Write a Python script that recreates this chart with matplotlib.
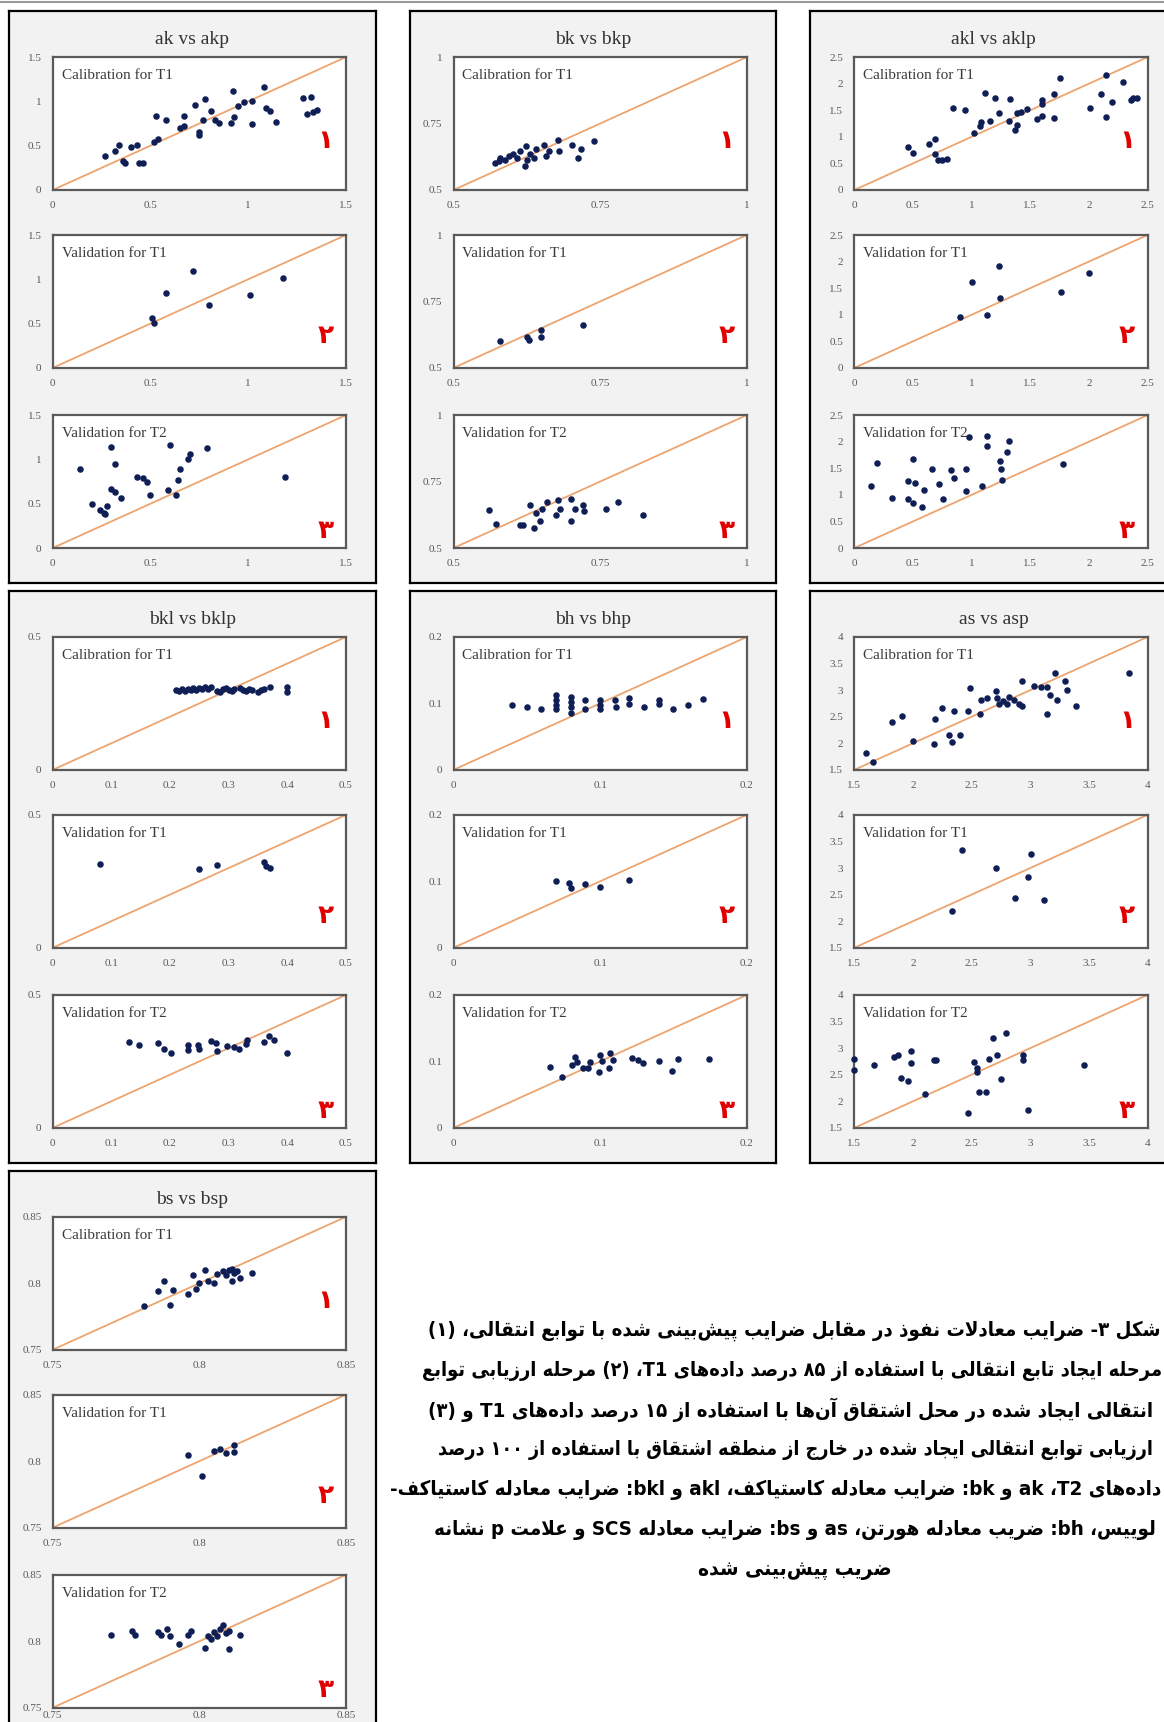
import re
import matplotlib
matplotlib.use('Agg')
import matplotlib.pyplot as plt

# ---------------- data (observed x vs predicted y) ----------------
ak_cal_x = [0.27, 0.32, 0.34, 0.36, 0.37, 0.40, 0.43, 0.44, 0.46, 0.52, 0.54, 0.53, 0.58, 0.65, 0.67, 0.67, 0.73, 0.75, 0.75, 0.77,
            0.78, 0.81, 0.83, 0.85, 0.91, 0.92, 0.93, 0.95, 0.98, 1.02, 1.02, 1.08, 1.09, 1.11, 1.14, 1.28, 1.30, 1.32, 1.33, 1.35]
ak_cal_y = [0.38, 0.44, 0.51, 0.33, 0.31, 0.49, 0.51, 0.31, 0.31, 0.54, 0.57, 0.84, 0.79, 0.70, 0.72, 0.83, 0.96, 0.65, 0.62, 0.79,
            1.03, 0.89, 0.79, 0.76, 0.76, 1.12, 0.82, 0.95, 0.99, 1.00, 0.75, 1.16, 0.93, 0.89, 0.77, 1.04, 0.86, 1.05, 0.88, 0.90]
ak_v1_x = [0.51, 0.52, 0.58, 0.72, 0.80, 1.01, 1.18]
ak_v1_y = [0.56, 0.51, 0.85, 1.09, 0.71, 0.82, 1.01]
ak_v2_x = [0.14, 0.20, 0.24, 0.26, 0.28, 0.27, 0.30, 0.32, 0.30, 0.32, 0.35, 0.43, 0.46, 0.48, 0.50, 0.59, 0.60, 0.63, 0.64, 0.65,
           0.69, 0.70, 0.79, 1.19]
ak_v2_y = [0.89, 0.50, 0.43, 0.40, 0.47, 0.38, 1.14, 0.95, 0.67, 0.63, 0.57, 0.80, 0.79, 0.74, 0.60, 0.66, 1.16, 0.60, 0.77, 0.89,
           1.01, 1.06, 1.13, 0.80]

bk_cal_x = [0.570, 0.577, 0.580, 0.587, 0.594, 0.602, 0.609, 0.614, 0.622, 0.623, 0.626, 0.631, 0.637, 0.640, 0.654, 0.657,
            0.663, 0.679, 0.680, 0.702, 0.713, 0.717, 0.740]
bk_cal_y = [0.601, 0.608, 0.620, 0.613, 0.627, 0.637, 0.620, 0.645, 0.592, 0.665, 0.613, 0.634, 0.620, 0.655, 0.669, 0.627,
            0.648, 0.687, 0.648, 0.669, 0.620, 0.655, 0.683]
bk_v1_x = [0.579, 0.626, 0.628, 0.649, 0.650, 0.721]
bk_v1_y = [0.603, 0.618, 0.606, 0.642, 0.616, 0.663]
bk_v2_x = [0.560, 0.573, 0.613, 0.619, 0.630, 0.638, 0.640, 0.648, 0.651, 0.660, 0.674, 0.678, 0.682, 0.700, 0.700, 0.707,
           0.720, 0.722, 0.760, 0.781, 0.823]
bk_v2_y = [0.642, 0.592, 0.585, 0.585, 0.660, 0.575, 0.632, 0.603, 0.646, 0.674, 0.625, 0.681, 0.646, 0.603, 0.684, 0.646,
           0.660, 0.639, 0.646, 0.672, 0.625]

akl_cal_x = [0.46, 0.50, 0.64, 0.69, 0.69, 0.71, 0.75, 0.79, 0.84, 0.94, 1.02, 1.07, 1.08, 1.11, 1.16, 1.20, 1.23, 1.32, 1.33, 1.37,
             1.39, 1.39, 1.42, 1.47, 1.56, 1.60, 1.60, 1.60, 1.70, 1.70, 1.75, 2.01, 2.10, 2.15, 2.15, 2.20, 2.29, 2.36, 2.38, 2.41]
akl_cal_y = [0.81, 0.70, 0.87, 0.95, 0.67, 0.56, 0.56, 0.58, 1.55, 1.51, 1.08, 1.20, 1.27, 1.83, 1.29, 1.74, 1.44, 1.30, 1.72, 1.13,
             1.23, 1.44, 1.46, 1.53, 1.34, 1.39, 1.69, 1.62, 1.36, 1.81, 2.11, 1.55, 1.80, 1.37, 2.16, 1.65, 2.04, 1.69, 1.74, 1.74]
akl_v1_x = [0.90, 1.00, 1.13, 1.23, 1.24, 1.76, 2.00]
akl_v1_y = [0.96, 1.61, 1.00, 1.91, 1.32, 1.43, 1.79]
akl_v2_x = [0.14, 0.19, 0.32, 0.46, 0.50, 0.46, 0.50, 0.52, 0.58, 0.59, 0.66, 0.72, 0.76, 0.82, 0.85, 0.95, 0.95, 0.98, 1.09, 1.13,
            1.13, 1.24, 1.25, 1.26, 1.30, 1.32, 1.78]
akl_v2_y = [1.16, 1.60, 0.95, 1.27, 1.67, 0.92, 0.85, 1.23, 0.77, 1.09, 1.48, 1.20, 0.92, 1.46, 1.32, 1.48, 1.08, 2.08, 1.16, 2.11,
            1.92, 1.64, 1.48, 1.28, 1.81, 2.02, 1.58]

bkl_cal_x = [0.210, 0.215, 0.220, 0.225, 0.230, 0.235, 0.240, 0.245, 0.250, 0.255, 0.260, 0.265, 0.270, 0.280, 0.285, 0.290,
             0.295, 0.300, 0.305, 0.310, 0.320, 0.325, 0.330, 0.335, 0.340, 0.350, 0.355, 0.360, 0.370, 0.400, 0.400]
bkl_cal_y = [0.300, 0.296, 0.303, 0.298, 0.305, 0.300, 0.307, 0.302, 0.309, 0.304, 0.310, 0.306, 0.312, 0.298, 0.294, 0.303,
             0.308, 0.300, 0.296, 0.305, 0.309, 0.302, 0.297, 0.304, 0.300, 0.293, 0.299, 0.306, 0.311, 0.292, 0.312]
bkl_v1_x = [0.08, 0.25, 0.28, 0.36, 0.363, 0.371]
bkl_v1_y = [0.316, 0.295, 0.313, 0.323, 0.309, 0.299]
bkl_v2_x = [0.130, 0.147, 0.179, 0.190, 0.202, 0.230, 0.230, 0.247, 0.250, 0.270, 0.278, 0.280, 0.298, 0.310, 0.318, 0.330,
            0.332, 0.361, 0.369, 0.377, 0.400]
bkl_v2_y = [0.323, 0.312, 0.320, 0.295, 0.280, 0.312, 0.292, 0.312, 0.297, 0.326, 0.320, 0.288, 0.309, 0.306, 0.297, 0.316,
            0.330, 0.323, 0.344, 0.330, 0.283]

bh_cal_x = [0.040, 0.050, 0.060, 0.070, 0.070, 0.070, 0.070, 0.080, 0.080, 0.080, 0.080, 0.090, 0.090, 0.100, 0.100, 0.100,
            0.110, 0.111, 0.120, 0.120, 0.130, 0.140, 0.140, 0.150, 0.160, 0.170]
bh_cal_y = [0.097, 0.094, 0.091, 0.113, 0.105, 0.097, 0.091, 0.109, 0.102, 0.095, 0.085, 0.105, 0.092, 0.105, 0.097, 0.092,
            0.105, 0.094, 0.108, 0.099, 0.095, 0.105, 0.099, 0.092, 0.097, 0.106]
bh_v1_x = [0.070, 0.079, 0.080, 0.090, 0.100, 0.120]
bh_v1_y = [0.101, 0.097, 0.090, 0.096, 0.091, 0.102]
bh_v2_x = [0.066, 0.074, 0.081, 0.083, 0.084, 0.088, 0.092, 0.093, 0.099, 0.100, 0.101, 0.106, 0.107, 0.109, 0.122, 0.126,
           0.129, 0.140, 0.149, 0.153, 0.174]
bh_v2_y = [0.091, 0.077, 0.094, 0.107, 0.099, 0.090, 0.090, 0.099, 0.084, 0.109, 0.101, 0.090, 0.112, 0.102, 0.105, 0.102,
           0.098, 0.100, 0.085, 0.104, 0.104]

as_cal_x = [1.60, 1.66, 1.82, 1.91, 2.00, 2.18, 2.19, 2.25, 2.31, 2.33, 2.35, 2.40, 2.47, 2.49, 2.57, 2.58, 2.63, 2.71, 2.72,
            2.73, 2.77, 2.80, 2.82, 2.86, 2.90, 2.93, 2.93, 3.03, 3.09, 3.14, 3.14, 3.17, 3.21, 3.23, 3.30, 3.31, 3.39, 3.84]
as_cal_y = [1.82, 1.65, 2.40, 2.52, 2.04, 1.98, 2.45, 2.66, 2.15, 2.03, 2.61, 2.15, 2.60, 3.04, 2.56, 2.81, 2.86, 2.99, 2.85,
            2.74, 2.80, 2.73, 2.87, 2.82, 2.73, 2.71, 3.17, 3.08, 3.05, 3.06, 2.56, 2.91, 3.32, 2.82, 3.17, 3.00, 2.71, 3.32]
as_v1_x = [2.33, 2.42, 2.71, 2.87, 2.98, 3.01, 3.12]
as_v1_y = [2.19, 3.33, 3.00, 2.44, 2.84, 3.27, 2.39]
as_v2_x = [1.50, 1.50, 1.67, 1.84, 1.87, 1.90, 1.96, 1.98, 1.98, 2.10, 2.18, 2.20, 2.47, 2.52, 2.55, 2.55, 2.56, 2.62, 2.65,
           2.68, 2.72, 2.75, 2.79, 2.94, 2.94, 2.98, 3.46]
as_v2_y = [2.79, 2.59, 2.68, 2.84, 2.87, 2.44, 2.39, 2.94, 2.72, 2.13, 2.77, 2.77, 1.78, 2.73, 2.63, 2.56, 2.18, 2.18, 2.79,
           3.19, 2.87, 2.42, 3.28, 2.87, 2.77, 1.83, 2.68]

bs_cal_x = [0.781, 0.786, 0.788, 0.790, 0.791, 0.796, 0.798, 0.799, 0.800, 0.802, 0.803, 0.805, 0.806, 0.808, 0.809, 0.810,
            0.811, 0.811, 0.812, 0.813, 0.814, 0.818]
bs_cal_y = [0.783, 0.794, 0.802, 0.784, 0.795, 0.792, 0.806, 0.796, 0.800, 0.810, 0.802, 0.800, 0.807, 0.809, 0.806, 0.810,
            0.802, 0.811, 0.808, 0.809, 0.804, 0.808]
bs_v1_x = [0.796, 0.801, 0.805, 0.807, 0.809, 0.812, 0.812]
bs_v1_y = [0.805, 0.789, 0.808, 0.809, 0.806, 0.807, 0.812]
bs_v2_x = [0.770, 0.777, 0.778, 0.786, 0.787, 0.789, 0.790, 0.793, 0.796, 0.797, 0.802, 0.803, 0.804, 0.805, 0.806, 0.807,
           0.808, 0.809, 0.810, 0.810, 0.814]
bs_v2_y = [0.805, 0.808, 0.805, 0.807, 0.805, 0.809, 0.804, 0.798, 0.805, 0.808, 0.795, 0.804, 0.802, 0.807, 0.804, 0.809,
           0.812, 0.806, 0.808, 0.794, 0.805]

stage_labels = ['Calibration for T1', 'Validation for T1', 'Validation for T2']
stage_digits = ['۱', '۲', '۳']

# title, axis ticks (x, y), series
panels = [
    ('ak vs akp', [0, 0.5, 1, 1.5], [0, 0.5, 1, 1.5],
     [(ak_cal_x, ak_cal_y), (ak_v1_x, ak_v1_y), (ak_v2_x, ak_v2_y)]),
    ('bk vs bkp', [0.5, 0.75, 1], [0.5, 0.75, 1],
     [(bk_cal_x, bk_cal_y), (bk_v1_x, bk_v1_y), (bk_v2_x, bk_v2_y)]),
    ('akl vs aklp', [0, 0.5, 1, 1.5, 2, 2.5], [0, 0.5, 1, 1.5, 2, 2.5],
     [(akl_cal_x, akl_cal_y), (akl_v1_x, akl_v1_y), (akl_v2_x, akl_v2_y)]),
    ('bkl vs bklp', [0, 0.1, 0.2, 0.3, 0.4, 0.5], [0, 0.5],
     [(bkl_cal_x, bkl_cal_y), (bkl_v1_x, bkl_v1_y), (bkl_v2_x, bkl_v2_y)]),
    ('bh vs bhp', [0, 0.1, 0.2], [0, 0.1, 0.2],
     [(bh_cal_x, bh_cal_y), (bh_v1_x, bh_v1_y), (bh_v2_x, bh_v2_y)]),
    ('as vs asp', [1.5, 2, 2.5, 3, 3.5, 4], [1.5, 2, 2.5, 3, 3.5, 4],
     [(as_cal_x, as_cal_y), (as_v1_x, as_v1_y), (as_v2_x, as_v2_y)]),
    ('bs vs bsp', [0.75, 0.8, 0.85], [0.75, 0.8, 0.85],
     [(bs_cal_x, bs_cal_y), (bs_v1_x, bs_v1_y), (bs_v2_x, bs_v2_y)]),
]

caption_lines = [
    'شکل ۳- ضرایب معادلات نفوذ در مقابل ضرایب پیش‌بینی شده با توابع انتقالی، (۱)',
    'مرحله ایجاد تابع انتقالی با استفاده از ۸۵ درصد داده‌های T1، (۲) مرحله ارزیابی توابع',
    'انتقالی ایجاد شده در محل اشتقاق آن‌ها با استفاده از ۱۵ درصد داده‌های T1 و (۳)',
    'ارزیابی توابع انتقالی ایجاد شده در خارج از منطقه اشتقاق با استفاده از ۱۰۰ درصد',
    'داده‌های T2، ak و bk: ضرایب معادله کاستیاکف، akl و bkl: ضرایب معادله کاستیاکف-',
    'لوییس، bh: ضریب معادله هورتن، as و bs: ضرایب معادله SCS و علامت p نشانه',
    'ضریب پیش‌بینی شده',
]

# ---------------- simple arabic shaping + rtl ordering ----------------
FORMS = {
    'ا': ('\uFE8D', '\uFE8E', None, None), 'آ': ('\uFE81', '\uFE82', None, None),
    'ب': ('\uFE8F', '\uFE90', '\uFE91', '\uFE92'), 'پ': ('\uFB56', '\uFB57', '\uFB58', '\uFB59'),
    'ت': ('\uFE95', '\uFE96', '\uFE97', '\uFE98'), 'ث': ('\uFE99', '\uFE9A', '\uFE9B', '\uFE9C'),
    'ج': ('\uFE9D', '\uFE9E', '\uFE9F', '\uFEA0'), 'چ': ('\uFB7A', '\uFB7B', '\uFB7C', '\uFB7D'),
    'ح': ('\uFEA1', '\uFEA2', '\uFEA3', '\uFEA4'), 'خ': ('\uFEA5', '\uFEA6', '\uFEA7', '\uFEA8'),
    'د': ('\uFEA9', '\uFEAA', None, None), 'ذ': ('\uFEAB', '\uFEAC', None, None),
    'ر': ('\uFEAD', '\uFEAE', None, None), 'ز': ('\uFEAF', '\uFEB0', None, None),
    'ژ': ('\uFB8A', '\uFB8B', None, None),
    'س': ('\uFEB1', '\uFEB2', '\uFEB3', '\uFEB4'), 'ش': ('\uFEB5', '\uFEB6', '\uFEB7', '\uFEB8'),
    'ص': ('\uFEB9', '\uFEBA', '\uFEBB', '\uFEBC'), 'ض': ('\uFEBD', '\uFEBE', '\uFEBF', '\uFEC0'),
    'ط': ('\uFEC1', '\uFEC2', '\uFEC3', '\uFEC4'), 'ظ': ('\uFEC5', '\uFEC6', '\uFEC7', '\uFEC8'),
    'ع': ('\uFEC9', '\uFECA', '\uFECB', '\uFECC'), 'غ': ('\uFECD', '\uFECE', '\uFECF', '\uFED0'),
    'ف': ('\uFED1', '\uFED2', '\uFED3', '\uFED4'), 'ق': ('\uFED5', '\uFED6', '\uFED7', '\uFED8'),
    'ک': ('\uFB8E', '\uFB8F', '\uFB90', '\uFB91'), 'گ': ('\uFB92', '\uFB93', '\uFB94', '\uFB95'),
    'ل': ('\uFEDD', '\uFEDE', '\uFEDF', '\uFEE0'), 'م': ('\uFEE1', '\uFEE2', '\uFEE3', '\uFEE4'),
    'ن': ('\uFEE5', '\uFEE6', '\uFEE7', '\uFEE8'), 'و': ('\uFEED', '\uFEEE', None, None),
    'ه': ('\uFEE9', '\uFEEA', '\uFEEB', '\uFEEC'), 'ی': ('\uFBFC', '\uFBFD', '\uFBFE', '\uFBFF'),
}
LAM_ALEF = {'ا': ('\uFEFB', '\uFEFC'), 'آ': ('\uFEF5', '\uFEF6')}
MIRROR = {'(': ')', ')': '('}


def shape(s):
    res = []
    i = 0
    while i < len(s):
        c = s[i]
        if c not in FORMS:
            if c != '\u200c':
                res.append(c)
            i += 1
            continue
        prev = s[i - 1] if i > 0 else ''
        jp = prev in FORMS and FORMS[prev][2] is not None
        if c == 'ل' and i + 1 < len(s) and s[i + 1] in LAM_ALEF:
            res.append(LAM_ALEF[s[i + 1]][1 if jp else 0])
            i += 2
            continue
        nxt = s[i + 1] if i + 1 < len(s) else ''
        jn = FORMS[c][2] is not None and nxt in FORMS
        iso, fin, ini, med = FORMS[c]
        res.append(med if (jp and jn) else fin if jp else ini if jn else iso)
        i += 1
    return ''.join(res)


def rtl(s):
    s = shape(s)
    runs = re.findall(r'[A-Za-z0-9\u06F0-\u06F9]+|[^A-Za-z0-9\u06F0-\u06F9]+', s)
    out = []
    for r in reversed(runs):
        if re.match(r'[A-Za-z0-9\u06F0-\u06F9]', r):
            out.append(r)
        else:
            out.append(''.join(MIRROR.get(ch, ch) for ch in reversed(r)))
    return ''.join(out)


# ---------------- figure ----------------
W, H = 1060.0, 1568.0   # layout units (scaled to figure fractions)
fig = plt.figure(figsize=(11.64, 17.22), dpi=100)
fig.patch.set_facecolor('white')


def box(x, y, w, h):
    return [x / W, 1 - (y + h) / H, w / W, h / H]


serif = ['Liberation Serif', 'DejaVu Serif']
dot_color = '#0F1F55'
line_color = '#EDA46E'
tick_color = '#595959'

col_x = [8, 373, 738]
row_y = [10, 538, 1066]
pw, ph = 334, 521
sub_top = [42, 204, 368]
digit_y = [0.37, 0.24, 0.13]

for k, (title, xt, yt, series) in enumerate(panels):
    x0 = col_x[k % 3]
    y0 = row_y[k // 3]
    bg = fig.add_axes(box(x0, y0, pw, ph))
    bg.set_facecolor('#F2F2F2')
    bg.set_xticks([])
    bg.set_yticks([])
    for sp in bg.spines.values():
        sp.set_color('black')
        sp.set_linewidth(1.6)
    bg.text(0.5, 1 - 26 / ph, title, transform=bg.transAxes, ha='center', va='center',
            fontsize=14, family=serif, color='#333333')

    lo, hi = xt[0], xt[-1]
    for j, (xs, ys) in enumerate(series):
        ax = fig.add_axes(box(x0 + 40, y0 + sub_top[j], 267, 121))
        ax.set_facecolor('white')
        ax.plot([lo, hi], [lo, hi], color=line_color, lw=1.3, zorder=2)
        ax.scatter(xs, ys, s=22, color=dot_color, zorder=3, clip_on=False, linewidths=0)
        ax.set_xlim(lo, hi)
        ax.set_ylim(yt[0], yt[-1])
        ax.set_xticks(xt)
        ax.set_xticklabels(['%g' % v for v in xt])
        ax.set_yticks(yt)
        ax.set_yticklabels(['%g' % v for v in yt])
        ax.tick_params(length=0, pad=8, labelsize=8, labelcolor=tick_color)
        if k == 6 and j == 2:
            # last row is at the page bottom: keep the labels on the page
            ax.tick_params(axis='x', pad=2)
        for lab in ax.get_xticklabels() + ax.get_yticklabels():
            lab.set_family(serif)
        for sp in ax.spines.values():
            sp.set_color('#5a5a5a')
            sp.set_linewidth(1.6)
        ax.text(0.03, 0.86, stage_labels[j], transform=ax.transAxes, ha='left', va='center',
                fontsize=11, family=serif, color='#3a3a3a')
        ax.text(0.93, digit_y[j], stage_digits[j], transform=ax.transAxes, ha='center', va='center',
                fontsize=19, fontweight='bold', color='#E00000', family=['DejaVu Sans'])

# thin rule at top of page
fig.add_artist(plt.Line2D([0, 1], [1 - 1.5 / H, 1 - 1.5 / H], color='#999999', lw=1.5))

# caption (persian, each line stretched to its span in the reference)
cap_y = [1212, 1248, 1284, 1320, 1357, 1393, 1430]
cap_span = [(388, 1057), (382, 1058), (387, 1050), (393, 1050), (352, 1058), (395, 1053), (636, 812)]
renderer = fig.canvas.get_renderer()
px_per_unit = 1164 / W
for i, line in enumerate(caption_lines):
    left, right = cap_span[i]
    t = fig.text(right / W, 1 - cap_y[i] / H, rtl(line), ha='right', va='center',
                 fontsize=14, fontweight='bold', fontstretch='condensed',
                 family=['DejaVu Sans', 'Liberation Serif'])
    width = t.get_window_extent(renderer).width
    t.set_fontsize(14 * (right - left) * px_per_unit / width)

fig.savefig('out.png', dpi=100)
